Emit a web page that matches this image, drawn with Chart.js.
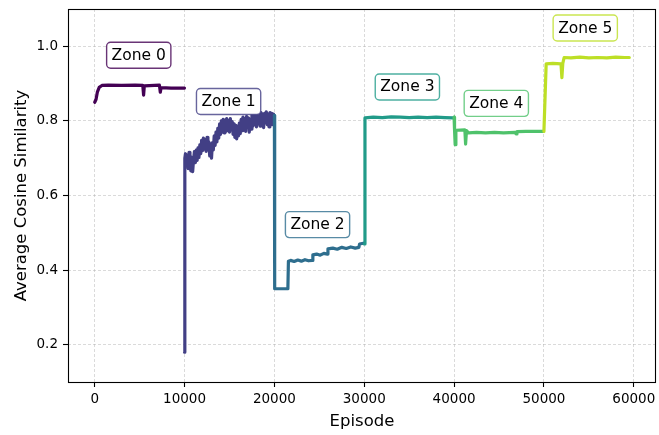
<!DOCTYPE html>
<html>
<head>
<meta charset="utf-8">
<script src="https://cdn.jsdelivr.net/npm/chart.js@4/dist/chart.umd.min.js"></script>
<style>
  html, body { margin: 0; padding: 0; background: #fff; }
  #wrap { width: 659px; height: 435px; position: relative; }
</style>
</head>
<body>
<div id="wrap"><canvas id="zones"></canvas></div>
<script>
/* ================================================
   DATA
================================================ */

const zoneNames = ['Zone 0', 'Zone 1', 'Zone 2', 'Zone 3', 'Zone 4', 'Zone 5'];

const zone0Ep  = [0, 150, 300, 500, 800, 1500, 3000, 4500, 5350, 5440, 5520, 7200, 7300, 7380, 8500, 9990];
const zone0Val = [0.850, 0.858, 0.878, 0.890, 0.895, 0.896, 0.895, 0.896, 0.895, 0.869, 0.894, 0.896, 0.877, 0.889, 0.888, 0.888];

const zone1Ep  = [10000, 10030,
                  10100, 10200, 10300, 10400, 10500, 10600, 10700, 10800, 10900, 11000,
                  11100, 11200, 11300, 11400, 11500, 11600, 11700, 11800, 11900, 12000,
                  12100, 12200, 12300, 12400, 12500, 12600, 12700, 12800, 12900, 13000,
                  13100, 13200, 13300, 13400, 13500, 13600, 13700, 13800, 13900, 14000,
                  14100, 14200, 14300, 14400, 14500, 14600, 14700, 14800, 14900, 15000,
                  15100, 15200, 15300, 15400, 15500, 15600, 15700, 15800, 15900, 16000,
                  16100, 16200, 16300, 16400, 16500, 16600, 16700, 16800, 16900, 17000,
                  17100, 17200, 17300, 17400, 17500, 17600, 17700, 17800, 17900, 18000,
                  18100, 18200, 18300, 18400, 18500, 18600, 18700, 18800, 18900, 19000,
                  19100, 19200, 19300, 19400, 19500, 19600, 19700, 19800, 19900];
const zone1Val = [0.180, 0.700,
                  0.712, 0.680, 0.708, 0.672, 0.716, 0.684, 0.666, 0.702, 0.664, 0.696,
                  0.718, 0.688, 0.722, 0.694, 0.728, 0.702, 0.736, 0.712, 0.748, 0.720,
                  0.754, 0.724, 0.750, 0.718, 0.756, 0.726, 0.744, 0.706, 0.738, 0.700,
                  0.742, 0.722, 0.760, 0.734, 0.770, 0.744, 0.780, 0.754, 0.792, 0.764,
                  0.800, 0.770, 0.804, 0.768, 0.802, 0.772, 0.806, 0.774, 0.800, 0.770,
                  0.806, 0.776, 0.798, 0.764, 0.792, 0.756, 0.788, 0.752, 0.786, 0.760,
                  0.794, 0.766, 0.804, 0.774, 0.810, 0.780, 0.806, 0.772, 0.812, 0.784,
                  0.808, 0.770, 0.804, 0.778, 0.816, 0.786, 0.820, 0.790, 0.818, 0.784,
                  0.822, 0.792, 0.816, 0.786, 0.822, 0.794, 0.818, 0.782, 0.820, 0.796,
                  0.824, 0.790, 0.818, 0.784, 0.822, 0.796, 0.820, 0.790, 0.818];

const zone2Ep  = [20000, 20030, 21500, 21560, 21800, 22200, 22600, 23000, 23400, 23800, 24200, 24280, 24700, 25100, 25500,
                  25900, 25960, 26500, 27000, 27500, 28000, 28500, 29000, 29400, 29480, 29900];
const zone2Val = [0.815, 0.350, 0.350, 0.424, 0.426, 0.423, 0.427, 0.424, 0.428, 0.425, 0.426, 0.441, 0.443, 0.440, 0.445,
                  0.443, 0.457, 0.459, 0.456, 0.461, 0.458, 0.462, 0.459, 0.461, 0.470, 0.472];

const zone3Ep  = [30000, 30080, 31000, 32000, 33000, 34000, 35000, 36000, 37000, 38000, 39000, 39900];
const zone3Val = [0.470, 0.808, 0.810, 0.809, 0.811, 0.810, 0.809, 0.810, 0.809, 0.810, 0.809, 0.808];

const zone4Ep  = [40000, 40050, 40120, 40200, 41200, 41280, 41380, 41600, 42500, 43500, 44500, 45500, 46800, 46900, 47000,
                  48000, 49000, 49900];
const zone4Val = [0.810, 0.776, 0.736, 0.775, 0.776, 0.738, 0.774, 0.768, 0.769, 0.768, 0.769, 0.768, 0.769, 0.765, 0.771,
                  0.772, 0.772, 0.772];

const zone5Ep  = [50000, 50250, 51000, 51900, 52000, 52100, 52250, 53000, 54000, 55000, 56000, 57000, 58000, 59000, 59500];
const zone5Val = [0.772, 0.953, 0.954, 0.953, 0.916, 0.954, 0.970, 0.969, 0.971, 0.969, 0.970, 0.969, 0.971, 0.970, 0.970];

const xTicks = [0, 10000, 20000, 30000, 40000, 50000, 60000];
const yTicks = [0.2, 0.4, 0.6, 0.8, 1.0];

/* label anchors (episode, similarity) */
const labelEp  = [4900, 14900, 24800, 34800, 44700, 54600];
const labelVal = [0.976, 0.852, 0.522, 0.891, 0.847, 1.049];

/* ================================================
   COLORS / FONTS
================================================ */

const zoneColors = ['#440154', '#423f85', '#2e6e8e', '#219b89', '#4fc26b', '#bddf26'];
const FONT = "'DejaVu Sans', sans-serif";

/* ================================================
   PLUGINS
================================================ */

const framePlugin = {
  id: 'frame',
  afterDatasetsDraw(chart) {
    const { ctx, chartArea: a } = chart;
    ctx.save();
    ctx.strokeStyle = '#000';
    ctx.lineWidth = 1.1;
    ctx.strokeRect(Math.round(a.left) + 0.5, Math.round(a.top) + 0.5,
                   Math.round(a.right - a.left) - 1, Math.round(a.bottom - a.top));
    ctx.restore();
  },
};

const zoneLabelPlugin = {
  id: 'zoneLabels',
  afterDraw(chart) {
    const { ctx, scales } = chart;
    ctx.save();
    ctx.font = '15.5px ' + FONT;
    ctx.textAlign = 'center';
    ctx.textBaseline = 'middle';
    zoneNames.forEach((name, i) => {
      const px = scales.x.getPixelForValue(labelEp[i]);
      const py = scales.y.getPixelForValue(labelVal[i]);
      const w  = ctx.measureText(name).width + 10;
      const h  = 26;
      ctx.beginPath();
      ctx.roundRect(px - w / 2, py - h / 2, w, h, 4);
      ctx.fillStyle = '#fff';
      ctx.fill();
      ctx.globalAlpha = 0.8;
      ctx.strokeStyle = zoneColors[i];
      ctx.lineWidth = 1.4;
      ctx.stroke();
      ctx.globalAlpha = 1;
      ctx.fillStyle = '#000';
      ctx.fillText(name, px, py + 0.5);
    });
    ctx.restore();
  },
};

/* ================================================
   CHART
================================================ */

const zoneEps  = [zone0Ep, zone1Ep, zone2Ep, zone3Ep, zone4Ep, zone5Ep];
const zoneVals = [zone0Val, zone1Val, zone2Val, zone3Val, zone4Val, zone5Val];

const datasets = zoneNames.map((name, i) => ({
  label: name,
  data: zoneEps[i].map((e, j) => ({ x: e, y: zoneVals[i][j] })),
  borderColor: zoneColors[i],
  backgroundColor: zoneColors[i],
  borderWidth: 3.2,
  borderJoinStyle: 'round',
  borderCapStyle: 'round',
  pointRadius: 0,
  tension: 0,
  order: zoneNames.length - i,
}));

const gridOpts = {
  color: 'rgba(170,170,170,0.55)',
  lineWidth: 0.8,
  tickColor: '#000',
  tickLength: 5,
  tickWidth: 1.1,
};

new Chart(document.getElementById('zones').getContext('2d'), {
  type: 'line',
  data: { datasets },
  options: {
    responsive: true,
    maintainAspectRatio: false,
    animation: false,
    layout: { padding: { left: 0, right: 3, top: 9, bottom: 0 } },
    plugins: {
      legend:  { display: false },
      tooltip: { enabled: false },
    },
    scales: {
      x: {
        type: 'linear',
        min: -2975,
        max: 62475,
        afterBuildTicks: s => { s.ticks = xTicks.map(v => ({ value: v })); },
        afterFit: s => { s.height = 53; s.paddingLeft = 0; s.paddingRight = 0; },
        ticks: {
          color: '#000', font: { family: FONT, size: 13.5 },
          padding: 4, maxRotation: 0, autoSkip: false,
          callback: v => String(v),
        },
        grid: gridOpts,
        border: { display: false, dash: [3, 2] },
        title: {
          display: true, text: 'Episode', color: '#000',
          font: { family: FONT, size: 16.5 }, padding: { top: 0, bottom: 3 },
        },
      },
      y: {
        type: 'linear',
        min: 0.1,
        max: 1.1,
        afterBuildTicks: s => { s.ticks = yTicks.map(v => ({ value: v })); },
        afterFit: s => { s.width = 68; s.paddingTop = 0; s.paddingBottom = 0; },
        ticks: {
          color: '#000', font: { family: FONT, size: 13.5 },
          padding: 5, autoSkip: false,
          callback: v => Number(v).toFixed(1),
        },
        grid: gridOpts,
        border: { display: false, dash: [3, 2] },
        title: {
          display: true, text: 'Average Cosine Similarity', color: '#000',
          font: { family: FONT, size: 16.5 }, padding: { top: 12, bottom: 0 },
        },
      },
    },
  },
  plugins: [framePlugin, zoneLabelPlugin],
});
</script>
</body>
</html>
